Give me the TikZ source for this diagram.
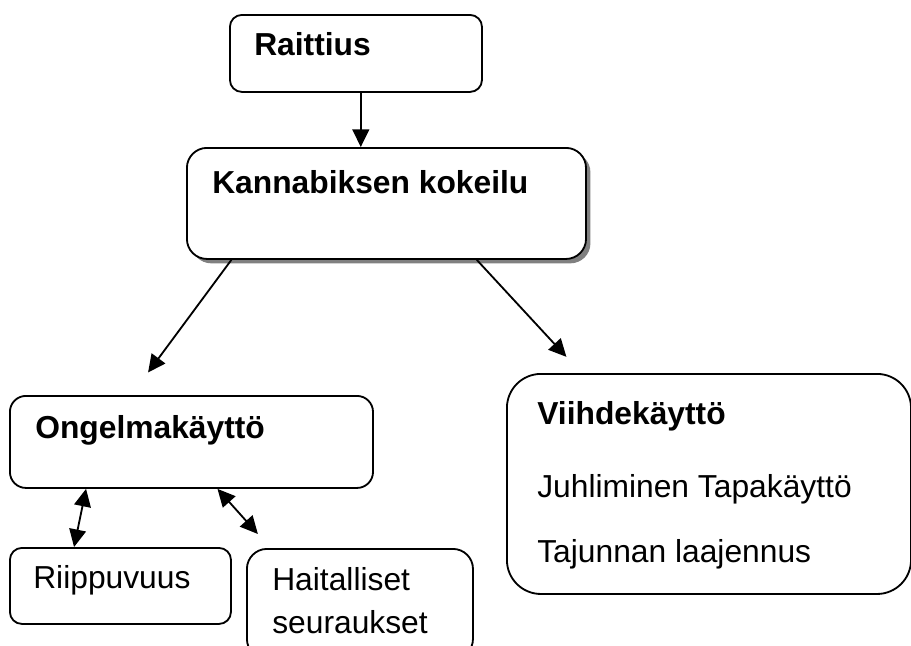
\documentclass[tikz,border=0pt]{standalone}
\usepackage{fontspec}
\setmainfont{Liberation Sans}
\usetikzlibrary{
    arrows.meta,
    shadows
}

\tikzset{
  box/.style={draw, line width=1.3pt, fill=white, anchor=north west, inner sep=0pt},
  headtext/.style={anchor=base west, inner sep=0pt,
    font=\fontsize{22.6pt}{30.5pt}\selectfont\bfseries},
  bodytext/.style={anchor=base west, inner sep=0pt, align=left,
    font=\fontsize{22.6pt}{30.5pt}\selectfont},
  arr/.style={line width=1.3pt, -{Triangle[length=0.44cm, width=0.42cm]}},
  dblarr/.style={line width=1.3pt,
    {Triangle[length=0.44cm, width=0.42cm]}-{Triangle[length=0.44cm, width=0.42cm]}}
}

\begin{document}
\begin{tikzpicture}[x=0.025cm, y=-0.025cm]

  \useasboundingbox (0,0) rectangle (911,645);
  \clip (0,0) rectangle (911,645);

  % boxes {{{
  \node[box, minimum width=6.3cm, minimum height=1.925cm,
    rounded corners=0.3cm] (raittius) at (229,14) {};
  \node[box, minimum width=9.975cm, minimum height=2.775cm,
    rounded corners=0.5cm,
    drop shadow={shadow xshift=0.11cm, shadow yshift=-0.11cm,
      fill=gray, opacity=1}] (kanna) at (186,147) {};
  \node[box, minimum width=9.075cm, minimum height=2.3cm,
    rounded corners=0.4cm] (ongelma) at (9,395) {};
  \node[box, minimum width=10.1cm, minimum height=5.5cm,
    rounded corners=0.85cm] (viihde) at (506,373) {};
  \node[box, minimum width=5.525cm, minimum height=1.9cm,
    rounded corners=0.3cm] (riippu) at (9,547) {};
  \node[box, minimum width=5.65cm, minimum height=2.75cm,
    rounded corners=0.5cm] (haitta) at (246,548) {};
  % }}}

  % texts {{{
  \node[headtext] (raittiusText) at (254,55) {Raittius};
  \node[headtext] (kannaText) at (212,193) {Kannabiksen kokeilu};
  \node[headtext] (ongelmaText) at (35,438) {Ongelmakäyttö};
  \node[headtext] (viihdeText) at (537,424) {Viihdekäyttö};
  \node[bodytext] (juhlaText) at (537,497) {Juhliminen Tapakäyttö};
  \node[bodytext] (tajuntaText) at (537,562) {Tajunnan laajennus};
  \node[bodytext] (riippuText) at (33,588) {Riippuvuus};
  % base of a two-line node is its last line
  \node[bodytext] (haittaText) at (272,633) {Haitalliset\\seuraukset};
  % }}}

  % connectors {{{
  \draw[arr] (raittius.-83) -- (raittius.-83 |- kanna.north);
  \draw[arr, shorten >=0.7cm] (kanna.200.6) -- (ongelma.142.3);
  \draw[arr, shorten >=0.55cm] (kanna.-32.4) -- (viihde.139.1);
  \draw[dblarr] (ongelma.204.6) -- (riippu.140.1);
  \draw[dblarr, shorten >=0.47cm] (ongelma.-61) -- (haitta.148);
  % }}}

\end{tikzpicture}
\end{document}
